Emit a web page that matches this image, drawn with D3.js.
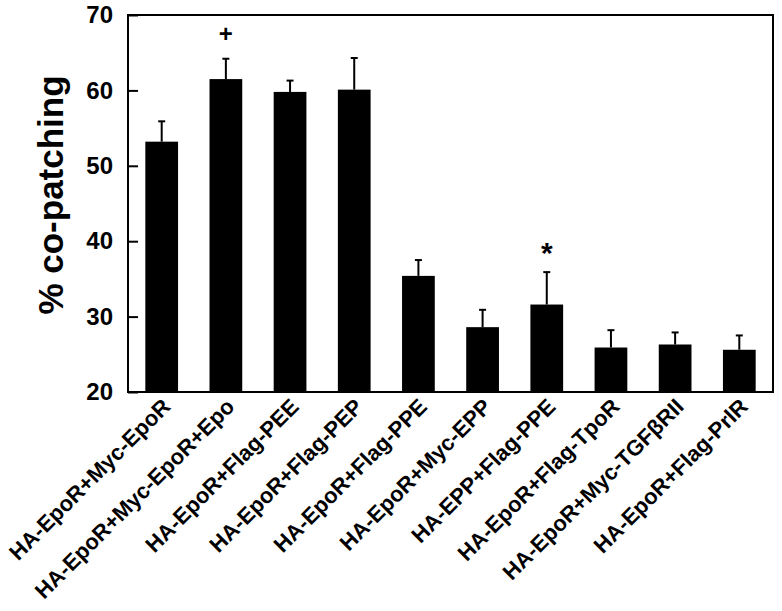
<!DOCTYPE html>
<html>
<head>
<meta charset="utf-8">
<script src="https://cdn.jsdelivr.net/npm/d3@7"></script>
<style>
  body { margin: 0; background: #fff; }
  text { font-family: "Liberation Sans", Arial, sans-serif; font-weight: bold; fill: #000; }
</style>
</head>
<body>
<div class="chart"></div>
<script>
// values
var categories = ["HA-EpoR+Myc-EpoR", "HA-EpoR+Myc-EpoR+Epo", "HA-EpoR+Flag-PEE", "HA-EpoR+Flag-PEP",
                  "HA-EpoR+Flag-PPE", "HA-EpoR+Myc-EPP", "HA-EPP+Flag-PPE", "HA-EpoR+Flag-TpoR",
                  "HA-EpoR+Myc-TGF\u03B2RII", "HA-EpoR+Flag-PrlR"];
var means = [53.2, 61.5, 59.8, 60.1, 35.4, 28.6, 31.6, 25.9, 26.3, 25.6];
var errors = [2.7, 2.7, 1.5, 4.2, 2.1, 2.3, 4.3, 2.3, 1.6, 1.9];
var marks = ["", "+", "", "", "", "", "*", "", "", ""];
var yTicks = [20, 30, 40, 50, 60, 70];

var W = 782, H = 611;
var m = { left: 128, right: 9, top: 15, bottom: 219 };
var iw = W - m.left - m.right, ih = H - m.top - m.bottom;

var data = categories.map(function (c, i) {
  return { name: c, v: means[i], e: errors[i], mark: marks[i] };
});

var svg = d3.select(".chart").append("svg")
  .attr("width", W).attr("height", H);
var g = svg.append("g").attr("transform", "translate(" + m.left + "," + m.top + ")");

var x = d3.scaleBand().domain(categories).range([0, iw]).paddingInner(0.49).paddingOuter(0.27);
var y = d3.scaleLinear().domain([20, 70]).range([ih, 0]);

// frame
g.append("rect").attr("width", iw).attr("height", ih)
  .attr("fill", "none").attr("stroke", "#000").attr("stroke-width", 2);

// y axis, ticks pointing inward
var yAxis = g.append("g")
  .call(d3.axisLeft(y).tickValues(yTicks).tickSize(-10).tickPadding(15).tickFormat(d3.format("d")));
yAxis.select(".domain").remove();
yAxis.selectAll("line").attr("stroke-width", 2);
yAxis.selectAll("text").style("font-size", "24px")
  .style("font-family", "'Liberation Sans', Arial, sans-serif");

// bars
g.selectAll(".bar").data(data).enter().append("rect")
  .attr("class", "bar")
  .attr("x", function (d) { return x(d.name); })
  .attr("width", x.bandwidth())
  .attr("y", function (d) { return y(d.v); })
  .attr("height", function (d) { return ih - y(d.v); })
  .attr("fill", "#000");

// error bars (upper only)
var eb = g.selectAll(".err").data(data).enter().append("g").attr("class", "err");
eb.append("line")
  .attr("x1", function (d) { return x(d.name) + x.bandwidth() / 2; })
  .attr("x2", function (d) { return x(d.name) + x.bandwidth() / 2; })
  .attr("y1", function (d) { return y(d.v); })
  .attr("y2", function (d) { return y(d.v + d.e); })
  .attr("stroke", "#000").attr("stroke-width", 2);
eb.append("line")
  .attr("x1", function (d) { return x(d.name) + x.bandwidth() / 2 - 3.5; })
  .attr("x2", function (d) { return x(d.name) + x.bandwidth() / 2 + 3.5; })
  .attr("y1", function (d) { return y(d.v + d.e); })
  .attr("y2", function (d) { return y(d.v + d.e); })
  .attr("stroke", "#000").attr("stroke-width", 2);

// significance marks
g.selectAll(".mark").data(data.filter(function (d) { return d.mark; })).enter().append("text")
  .attr("class", "mark")
  .attr("x", function (d) { return x(d.name) + x.bandwidth() / 2; })
  .attr("y", function (d) { return y(d.v + d.e) - (d.mark === "*" ? 9 : 17); })
  .attr("text-anchor", "middle")
  .style("font-size", function (d) { return d.mark === "*" ? "30px" : "24px"; })
  .text(function (d) { return d.mark; });

// category labels, rotated
g.selectAll(".xlab").data(data).enter().append("text")
  .attr("class", "xlab")
  .attr("transform", function (d) {
    return "translate(" + (x(d.name) + x.bandwidth() / 2 + 10) + "," + (ih + 16) + ") rotate(-45)";
  })
  .attr("text-anchor", "end")
  .style("font-size", "22px")
  .text(function (d) { return d.name; });

// y title
svg.append("text")
  .attr("transform", "translate(63," + (m.top + 180) + ") rotate(-90)")
  .attr("text-anchor", "middle")
  .style("font-size", "35px")
  .text("% co-patching");
</script>
</body>
</html>
